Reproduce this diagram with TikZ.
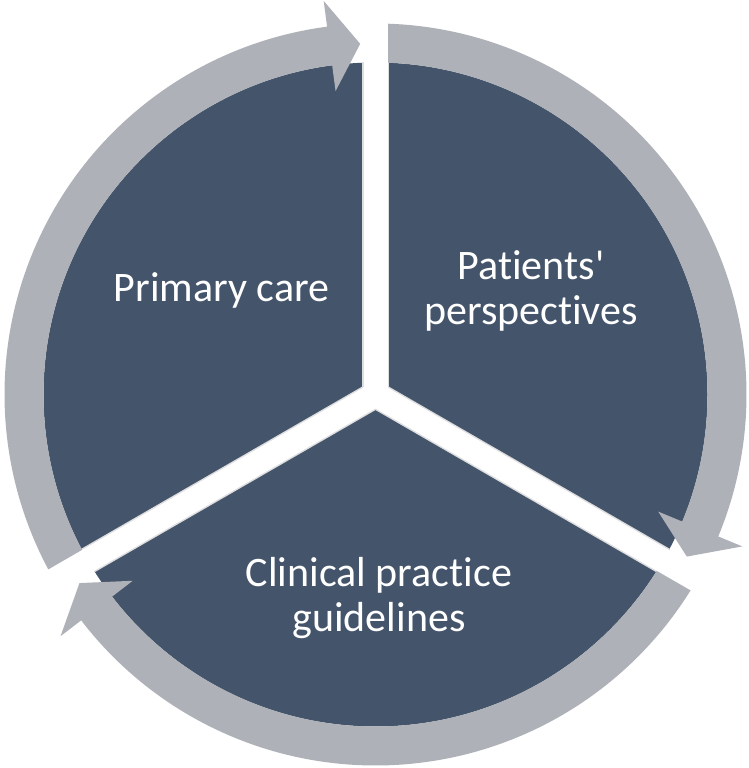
\documentclass[tikz,border=0pt]{standalone}
\usepackage{fontspec}
\newfontfamily\labelfont{Carlito}[Ligatures=NoCommon]
\definecolor{piefill}{RGB}{68,84,106}
\definecolor{ringgray}{RGB}{174,177,184}
\definecolor{gapshade}{RGB}{222,222,224}
\begin{document}
\begin{tikzpicture}[x=1pt,y=1pt,
  seglabel/.style={text=white, font=\labelfont\fontsize{42}{45}\selectfont, align=center, inner sep=0pt},
  cyclearrow/.style={fill=ringgray},
  pieseg/.style={fill=piefill},
  gapband/.style={draw=white, line width=24pt},
  gapshadow/.style={draw=gapshade, line width=27pt}]
\useasboundingbox (0,0) rectangle (748,768);
\fill[white] (0,0) rectangle (748,768);
\coordinate (c) at (375.5,373.5);
\begin{scope}[shift={(c)}]
  \fill[pieseg] (0,0) circle[radius=332pt];
  \foreach \a in {90,210,330} \draw[gapshadow] (0,0) -- (\a:332pt);
  \foreach \r in {0,120,240} {
    \fill[cyclearrow] (210-\r:332pt)
      arc[start angle=210-\r, end angle=97.5-\r, radius=332pt]
      -- (97.5-\r:306pt) -- (92.5-\r:351pt) -- (97.5-\r:397pt) -- (97.5-\r:371pt)
      arc[start angle=97.5-\r, end angle=210-\r, radius=371pt] -- cycle;
  }
  \foreach \a in {90,210,330} \draw[gapband] (0,0) -- (\a:400pt);
  \fill[white] (0,0) circle[radius=14pt];
\end{scope}
\node[seglabel, anchor=base] (primary) at (221.5,466) {Primary care};
\node[seglabel, anchor=base] (patients) at (531,443) {Patients'\\perspectives};
\node[seglabel, anchor=base] (clinical) at (379,136) {Clinical practice\\guidelines};
\end{tikzpicture}
\end{document}
